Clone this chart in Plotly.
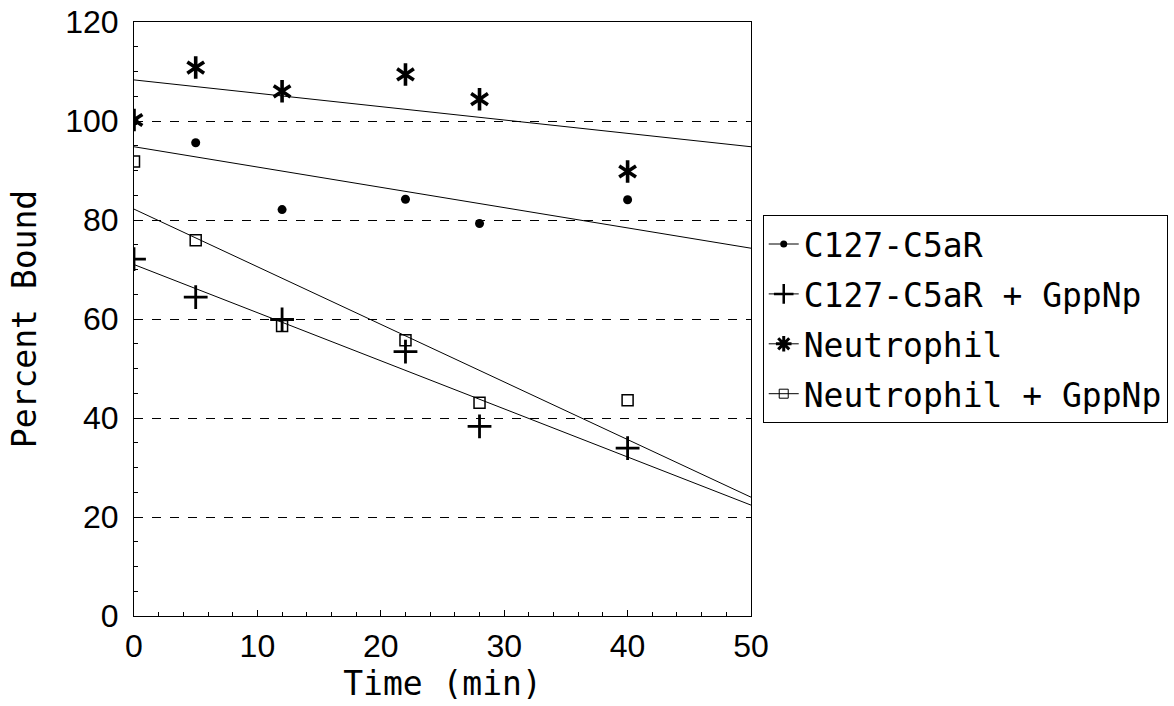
import plotly.graph_objects as go

# ---------------- data ----------------
time_min = [0, 5, 12, 22, 28, 40]
c127 = [100.0, 95.6, 82.1, 84.2, 79.3, 84.1]
c127_gpp = [72.1, 64.4, 59.9, 53.4, 38.3, 33.9]
neut = [100.2, 110.8, 106.0, 109.4, 104.4, 89.8]
neut_gpp = [91.8, 75.9, 58.6, 55.7, 43.1, 43.6]

fit_x = [0, 50]
fit_c127 = [94.8, 74.3]
fit_c127_gpp = [71.0, 22.4]
fit_neut = [108.3, 94.8]
fit_neut_gpp = [82.2, 24.0]

series_names = ["C127-C5aR", "C127-C5aR + GppNp", "Neutrophil", "Neutrophil + GppNp"]
x_ticks = [0, 10, 20, 30, 40, 50]
y_ticks = [0, 20, 40, 60, 80, 100, 120]

MONO = "DejaVu Sans Mono"
SANS = "Liberation Sans"

fig = go.Figure()

# fitted lines
for ys, grp in [(fit_neut, "g3"), (fit_c127, "g1"), (fit_neut_gpp, "g4"), (fit_c127_gpp, "g2")]:
    fig.add_trace(go.Scatter(x=fit_x, y=ys, mode="lines", line=dict(color="black", width=1),
                             legendgroup=grp, showlegend=False, hoverinfo="skip"))

# data points
fig.add_trace(go.Scatter(x=time_min, y=c127, mode="markers", legendgroup="g1", showlegend=False,
                         marker=dict(symbol="circle", size=9, color="black")))
fig.add_trace(go.Scatter(x=time_min, y=c127_gpp, mode="markers", legendgroup="g2", showlegend=False,
                         marker=dict(symbol="cross-thin-open", size=17, color="black",
                                     line=dict(color="black", width=2.8))))
for sym in ["y-up-open", "y-down-open"]:
    fig.add_trace(go.Scatter(x=time_min, y=neut, mode="markers", legendgroup="g3", showlegend=False,
                             marker=dict(symbol=sym, size=14, color="black",
                                         line=dict(color="black", width=3.6))))
fig.add_trace(go.Scatter(x=time_min, y=neut_gpp, mode="markers", legendgroup="g4", showlegend=False,
                         marker=dict(symbol="square-open", size=11, color="black",
                                     line=dict(color="black", width=1.5))))

# legend entries (line through marker, as in the reference)
legend_markers = [
    dict(symbol="circle", size=7, color="black"),
    dict(symbol="cross-thin-open", size=14, color="black", line=dict(color="black", width=2.5)),
    dict(symbol="asterisk-open", size=13, color="black", line=dict(color="black", width=3)),
    dict(symbol="square-open", size=9, color="black", line=dict(color="black", width=1)),
]
for i, (nm, mk) in enumerate(zip(series_names, legend_markers)):
    fig.add_trace(go.Scatter(x=[None], y=[None], mode="lines+markers", name=nm,
                             legendgroup=f"g{i+1}", line=dict(color="black", width=1), marker=mk))

fig.update_layout(
    width=1174, height=706,
    margin=dict(l=134, r=423, t=22, b=90, autoexpand=False),
    paper_bgcolor="white", plot_bgcolor="white",
    showlegend=True,
    legend=dict(x=1.019, y=0.675, xanchor="left", yanchor="top",
                bordercolor="black", borderwidth=1, bgcolor="white",
                font=dict(family=MONO, size=33, color="black"),
                itemwidth=30, tracegroupgap=4, traceorder="grouped"),
)

fig.update_xaxes(
    range=[0, 50], tickvals=x_ticks, ticktext=[str(v) for v in x_ticks],
    showline=True, linecolor="black", linewidth=1, mirror=True,
    ticks="inside", ticklen=6, tickcolor="black", tickwidth=1,
    minor=dict(dtick=2, ticks="inside", ticklen=4, tickcolor="black", showgrid=False),
    showgrid=False, zeroline=False, ticklabeloverflow="allow",
    tickfont=dict(family=SANS, size=32, color="black"), ticklabelstandoff=2,
    title=dict(text="Time (min)", font=dict(family=MONO, size=33, color="black"), standoff=4),
)
fig.update_yaxes(
    range=[0, 120], tickvals=y_ticks, ticktext=[str(v) for v in y_ticks],
    showline=True, linecolor="black", linewidth=1, mirror=True,
    ticks="inside", ticklen=6, tickcolor="black", tickwidth=1,
    minor=dict(dtick=5, ticks="inside", ticklen=4, tickcolor="black", showgrid=False),
    showgrid=True, gridcolor="black", gridwidth=1, griddash="dash",
    zeroline=False, ticklabeloverflow="allow",
    tickfont=dict(family=SANS, size=32, color="black"), ticklabelstandoff=8,
    title=dict(text="Percent Bound", font=dict(family=MONO, size=33, color="black"), standoff=18),
)

fig.write_html("out.html", config={"displayModeBar": False},
               post_script="document.body.style.margin='0';")
